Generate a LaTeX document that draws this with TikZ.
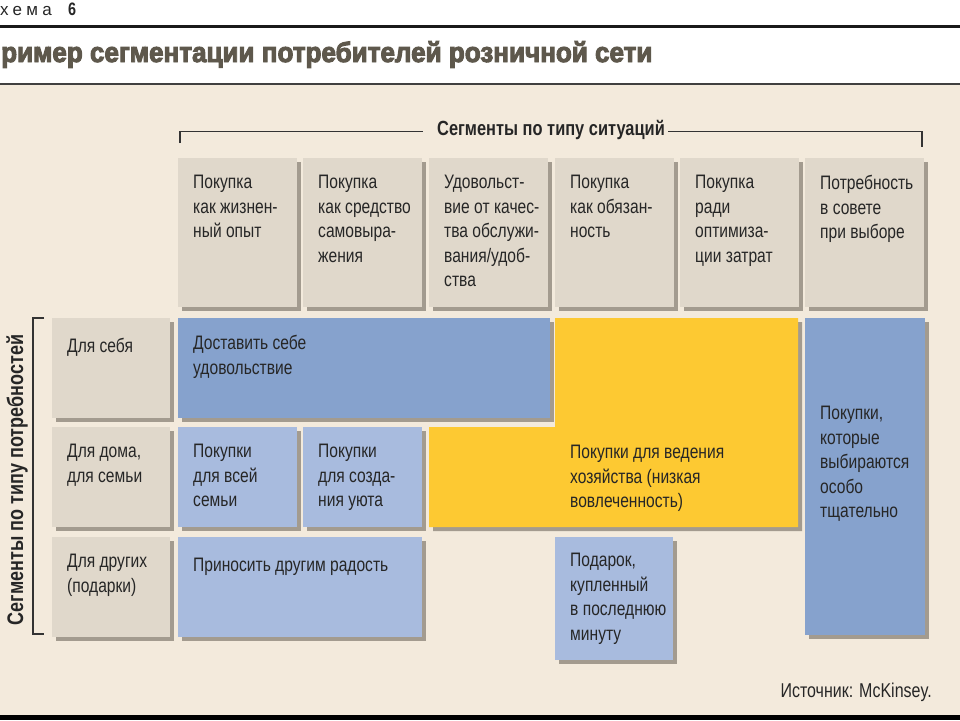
\documentclass[tikz,border=0pt]{standalone}
\usepackage{fontspec}
\setmainfont[FakeStretch=0.8]{Liberation Sans}
\newfontfamily\titlefont[FakeStretch=0.93,FakeBold=3.5]{Liberation Sans}
\newfontfamily\spacedfont[LetterSpace=25]{Liberation Sans}
\definecolor{bg}{HTML}{F3EADC}
\definecolor{hdr}{HTML}{E0D8CB}
\definecolor{shd}{HTML}{A39B8F}
\definecolor{dblue}{HTML}{86A2CD}
\definecolor{lblue}{HTML}{A8BBDE}
\definecolor{ylw}{HTML}{FDC932}
\definecolor{ttl}{HTML}{5E584C}
\definecolor{txt}{HTML}{262626}
\newcommand{\mycell}[5]{%
  \fill[shd] (#1+4,#2+4) rectangle ++(#3,#4);
  \fill[#5] (#1,#2) rectangle ++(#3,#4);}
\begin{document}
\begin{tikzpicture}[x=1pt,y=-1pt,
  celltext/.style={anchor=north west, align=left, inner sep=0pt, text=txt,
    font=\fontsize{19.5}{24.5}\selectfont, execute at begin node={\rule{0pt}{17pt}}},
  boldlab/.style={inner sep=0pt, text=txt, font=\bfseries\fontsize{20.5}{24}\selectfont},
  brack/.style={draw=black!80, line width=1.1pt}]
\useasboundingbox (0,0) rectangle (960,720);
\fill[white] (0,0) rectangle (960,720);
\fill[bg] (0,85) rectangle (960,715);
\fill[black] (0,715) rectangle (960,720);
\fill[black!90] (0,24.5) rectangle (960,27.5);
\fill[black!75] (0,83) rectangle (960,85);
% top labels
\node[anchor=base west, inner sep=0pt, text=txt, font=\spacedfont\fontsize{17}{20}\selectfont] (sch) at (0,15) {хема};
\node[anchor=base west, inner sep=0pt, text=txt, font=\bfseries\fontsize{18}{20}\selectfont] (num) at (68,15) {6};
\node[anchor=base west, inner sep=0pt, text=ttl, font=\titlefont\bfseries\fontsize{28}{32}\selectfont] (title) at (1,62) {ример сегментации потребителей розничной сети};
% header cells
\foreach \x in {178,303,429,555,680,805}{\mycell{\x}{158}{119}{149}{hdr}}
% row label cells
\foreach \y in {318,427,537}{\mycell{52}{\y}{118}{100}{hdr}}
% body cells
\mycell{178}{318}{372}{100}{dblue}
\fill[shd, shift={(4,4)}] (555,318) -- (798,318) -- (798,527) -- (429,527) -- (429,427) -- (555,427) -- cycle;
\fill[ylw] (555,318) -- (798,318) -- (798,527) -- (429,527) -- (429,427) -- (555,427) -- cycle;
\mycell{178}{427}{119}{100}{lblue}
\mycell{303}{427}{119}{100}{lblue}
\mycell{178}{537}{244}{100}{lblue}
\mycell{555}{537}{118}{123}{lblue}
\mycell{805}{318}{120}{317}{dblue}
% header bracket
\node[boldlab, anchor=base] (hl) at (551,135) {Сегменты по типу ситуаций};
\coordinate (hla) at (180,143);
\coordinate (hlb) at (423,131.5);
\coordinate (hlc) at (668,131.5);
\coordinate (hld) at (922,147);
\draw[brack] (hla) |- (hlb);
\draw[brack] (hlc) -| (hld);
% left bracket
\node[boldlab, rotate=90, font=\bfseries\fontsize{22.5}{24}\selectfont] (vl) at (17,480) {Сегменты по типу потребностей};
\coordinate (vla) at (44,318);
\coordinate (vlb) at (44,634);
\draw[brack] (vla) -| (33,476) |- (vlb);
% header texts (first baseline at y+17)
\node[celltext] (h1) at (193,175) {Покупка\\как жизнен-\\ный опыт};
\node[celltext] (h2) at (318,175) {Покупка\\как средство\\самовыра-\\жения};
\node[celltext] (h3) at (444,175) {Удовольст-\\вие от качес-\\тва обслужи-\\вания/удоб-\\ства};
\node[celltext] (h4) at (570,175) {Покупка\\как обязан-\\ность};
\node[celltext] (h5) at (695,175) {Покупка\\ради\\оптимиза-\\ции затрат};
\node[celltext] (h6) at (820,175) {Потребность\\в совете\\при выборе};
% row labels
\node[celltext] (r1) at (67,335) {Для себя};
\node[celltext] (r2) at (67,444) {Для дома,\\для семьи};
\node[celltext] (r3) at (67,554) {Для других\\(подарки)};
% body texts
\node[celltext] (b1) at (193,335) {Доставить себе\\удовольствие};
\node[celltext] (b2) at (193,444) {Покупки\\для всей\\семьи};
\node[celltext] (b3) at (318,444) {Покупки\\для созда-\\ния уюта};
\node[celltext] (b4) at (193,554) {Приносить другим радость};
\node[celltext] (b5) at (570,445) {Покупки для ведения\\хозяйства (низкая\\вовлеченность)};
\node[celltext] (b6) at (570,553) {Подарок,\\купленный\\в последнюю\\минуту};
\node[celltext] (b7) at (820,406) {Покупки,\\которые\\выбираются\\особо\\тщательно};
% source
\node[anchor=base east, inner sep=0pt, text=txt, font=\fontsize{20}{24}\selectfont] (src) at (932,697) {Источник: McKinsey.};
\end{tikzpicture}
\end{document}
